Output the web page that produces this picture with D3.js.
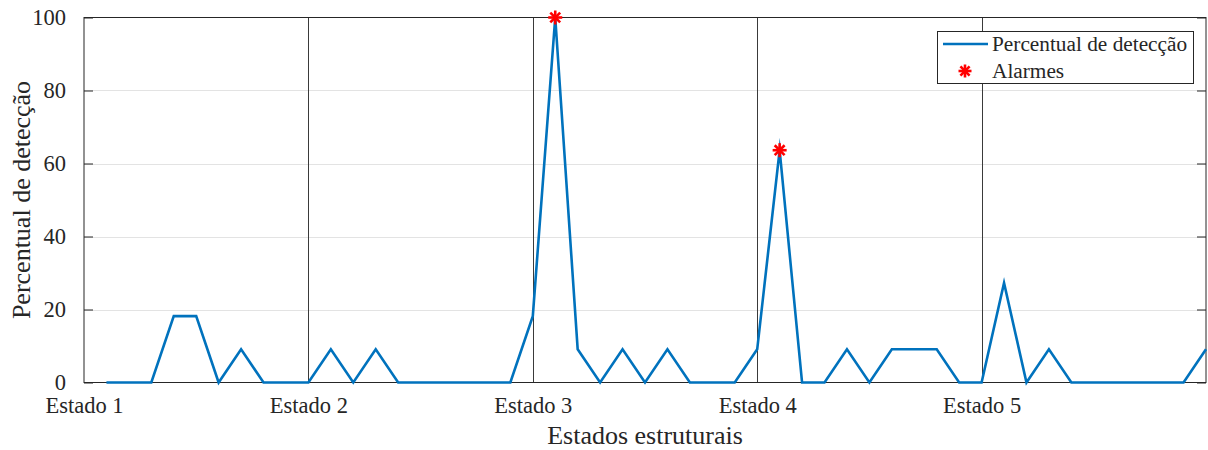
<!DOCTYPE html>
<html>
<head>
<meta charset="utf-8">
<script src="https://cdn.jsdelivr.net/npm/d3@7"></script>
<style>
  html, body { margin: 0; padding: 0; background: #fff; }
  svg { display: block; }
  svg text { font-family: "Liberation Serif", "Times New Roman", serif !important; fill: #262626; }
</style>
</head>
<body>
<svg id="chart" width="1208" height="450"></svg>
<script>
// ---- data ----
const stateLabels = ["Estado 1", "Estado 2", "Estado 3", "Estado 4", "Estado 5"];
const stateIndex = [0, 10, 20, 30, 40];
const sampleIndex = [1,2,3,4,5,6,7,8,9,10,11,12,13,14,15,16,17,18,19,20,21,22,23,24,25,26,27,28,29,30,31,32,33,34,35,36,37,38,39,40,41,42,43,44,45,46,47,48,49,50];
const detection = [
  0, 0, 0, 18.18, 18.18, 0, 9.09, 0, 0, 0,
  9.09, 0, 9.09, 0, 0, 0, 0, 0, 0, 18.18,
  100, 9.09, 0, 9.09, 0, 9.09, 0, 0, 0, 9.09,
  63.64, 0, 0, 9.09, 0, 9.09, 9.09, 9.09, 0, 0,
  27.27, 0, 9.09, 0, 0, 0, 0, 0, 0, 9.09
];
const alarmIndex = [21, 31];
const alarmValue = [100, 63.64];
const yTicks = [0, 20, 40, 60, 80, 100];
const legendLabels = ["Percentual de detecção", "Alarmes"];
const xTitle = "Estados estruturais";
const yTitle = "Percentual de detecção";

// ---- layout ----
const svg = d3.select("#chart");
const FONT = '"Liberation Serif", "Times New Roman", serif';
const L = 84, R = 1206, T = 17.5, B = 382.5;
const x = d3.scaleLinear().domain([0, 50]).range([L, R]);
const y = d3.scaleLinear().domain([0, 100]).range([B, T]);
const blue = "#0072BD", axisCol = "#262626";

// grid
svg.append("g").selectAll("line").data(yTicks.filter(d => d > 0 && d < 100)).join("line")
  .attr("x1", L).attr("x2", R)
  .attr("y1", d => Math.round(y(d)) + 0.5).attr("y2", d => Math.round(y(d)) + 0.5)
  .attr("stroke", "#e3e3e3").attr("stroke-width", 1);

// vertical state separators
svg.append("g").selectAll("line").data(stateIndex.slice(1)).join("line")
  .attr("x1", d => Math.round(x(d)) + 0.5).attr("x2", d => Math.round(x(d)) + 0.5)
  .attr("y1", T).attr("y2", B)
  .attr("stroke", "#3a3a3a").attr("stroke-width", 1);

// left axis
const yAxisL = d3.axisLeft(y).tickValues(yTicks).tickSize(-9).tickPadding(18).tickFormat(d3.format("d"));
const gL = svg.append("g").attr("transform", `translate(${L},0)`).call(yAxisL);
gL.attr("font-family", FONT);
gL.select(".domain").remove();
gL.selectAll(".tick line").attr("stroke", axisCol);
gL.selectAll(".tick text").attr("font-size", "22.5px").attr("fill", axisCol).style("font-family", FONT);

// right axis ticks
const yAxisR = d3.axisRight(y).tickValues(yTicks).tickSize(-9).tickFormat("");
const gR = svg.append("g").attr("transform", `translate(${R},0)`).call(yAxisR);
gR.select(".domain").remove();
gR.selectAll(".tick line").attr("stroke", axisCol);

// bottom axis (labels)
const xAxis = d3.axisBottom(x).tickValues(stateIndex).tickSize(0).tickPadding(15)
  .tickFormat((d, i) => stateLabels[i]);
const gB = svg.append("g").attr("transform", `translate(0,${B})`).call(xAxis);
gB.attr("font-family", FONT);
gB.select(".domain").remove();
gB.selectAll(".tick text").attr("font-size", "22.5px").attr("fill", axisCol).style("font-family", FONT);

// box
svg.append("rect").attr("x", L).attr("y", T).attr("width", R - L).attr("height", B - T)
  .attr("fill", "none").attr("stroke", axisCol).attr("stroke-width", 1);

// line
const line = d3.line().x((d, i) => x(sampleIndex[i])).y(d => y(d));
svg.append("path").datum(detection).attr("d", line)
  .attr("fill", "none").attr("stroke", blue).attr("stroke-width", 2.6)
  .attr("stroke-linejoin", "miter").attr("stroke-miterlimit", 10);

// asterisk marker
function asterisk(g, cx, cy, r) {
  const a = r * Math.SQRT1_2;
  const segs = [[-r,0,r,0],[0,-r,0,r],[-a,-a,a,a],[-a,a,a,-a]];
  g.selectAll(null).data(segs).join("line")
    .attr("x1", s => cx + s[0]).attr("y1", s => cy + s[1])
    .attr("x2", s => cx + s[2]).attr("y2", s => cy + s[3])
    .attr("stroke", "#ff0000").attr("stroke-width", 2.6);
}
const gM = svg.append("g");
alarmIndex.forEach((d, i) => asterisk(gM.append("g"), x(d), y(alarmValue[i]), 7));

// axis titles
svg.append("text").attr("x", (L + R) / 2).attr("y", 444).attr("text-anchor", "middle")
  .attr("font-size", "26px").style("font-family", FONT).text(xTitle);
svg.append("text").attr("transform", `translate(30,${(T + B) / 2}) rotate(-90)`)
  .attr("text-anchor", "middle").attr("font-size", "26px").style("font-family", FONT).text(yTitle);

// legend
const lg = svg.append("g");
lg.append("rect").attr("x", 937.5).attr("y", 31.5).attr("width", 256).attr("height", 52)
  .attr("fill", "#fff").attr("stroke", axisCol).attr("stroke-width", 1);
lg.append("line").attr("x1", 943).attr("x2", 988).attr("y1", 44).attr("y2", 44)
  .attr("stroke", blue).attr("stroke-width", 2.6);
asterisk(lg.append("g"), 965, 71, 6.5);
lg.append("text").attr("x", 992).attr("y", 51).attr("font-size", "21.3px").style("font-family", FONT).text(legendLabels[0]);
lg.append("text").attr("x", 992).attr("y", 78).attr("font-size", "21.3px").style("font-family", FONT).text(legendLabels[1]);
</script>
</body>
</html>
